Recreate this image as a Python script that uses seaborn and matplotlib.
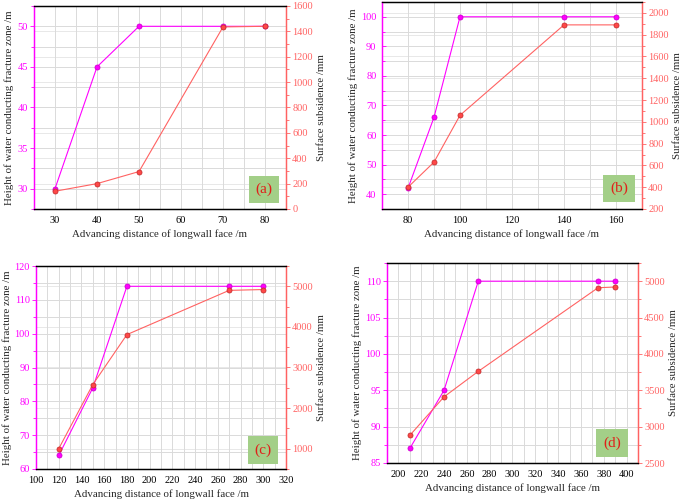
import numpy as np
import pandas as pd
import matplotlib
matplotlib.use("Agg")
import matplotlib.pyplot as plt
import matplotlib.transforms as mtransforms
from matplotlib.ticker import MultipleLocator
import seaborn as sns

# panel (a)
dist_a = [30, 40, 50, 70, 80]
height_a = [30, 45, 50, 50, 50]
subs_a = [140, 200, 295, 1435, 1440]

# panel (b)
dist_b = [80, 90, 100, 140, 160]
height_b = [42, 66, 100, 100, 100]
subs_b = [400, 630, 1060, 1890, 1890]

# panel (c)
dist_c = [120, 150, 180, 270, 300]
height_c = [64, 84, 114, 114, 114]
subs_c = [1000, 2580, 3810, 4900, 4920]

# panel (d)
dist_d = [210, 240, 270, 375, 390]
height_d = [87, 95, 110, 110, 110]
subs_d = [2880, 3410, 3760, 4910, 4920]

panel_labels = ["(a)", "(b)", "(c)", "(d)"]

MAGENTA = "#FF00FF"
RED = "#FF6262"
FS = 7.5

sns.set_style("white")
plt.rcParams["font.family"] = ["Liberation Serif", "DejaVu Serif"]

fig = plt.figure(figsize=(6.85, 5.0), dpi=100)

# axes box in pixels (left, right, top, bottom), label box centre in axes fraction
panels = [
    dict(box=(34, 286, 6, 209), x=dist_a, h=height_a, s=subs_a,
         xlim=(25, 85), xmaj=10, xmin=5, ylim=(27.5, 52.5), ymaj=5, ymin=2.5,
         rlim=(0, 1600), rmaj=200, lab_pos=(0.913, 0.095), ldir="out"),
    dict(box=(382, 642, 2, 209), x=dist_b, h=height_b, s=subs_b,
         xlim=(70, 170), xmaj=20, xmin=10, ylim=(35, 105), ymaj=10, ymin=5,
         rlim=(200, 2100), rmaj=200, lab_pos=(0.912, 0.10), ldir="in"),
    dict(box=(36, 286, 266, 469), x=dist_c, h=height_c, s=subs_c,
         xlim=(100, 320), xmaj=20, xmin=10, ylim=(60, 120), ymaj=10, ymin=5,
         rlim=(500, 5500), rmaj=1000, lab_pos=(0.908, 0.094), ldir="out"),
    dict(box=(387, 638, 263, 463), x=dist_d, h=height_d, s=subs_d,
         xlim=(190, 410), xmaj=20, xmin=10, ylim=(85, 112.5), ymaj=5, ymin=2.5,
         rlim=(2500, 5250), rmaj=500, lab_pos=(0.896, 0.10), ldir="out"),
]

W, H = 685, 500
for p, lab in zip(panels, panel_labels):
    l, r, t, b = p["box"]
    ax = fig.add_axes([l / W, 1 - b / H, (r - l) / W, (b - t) / H])
    ax2 = ax.twinx()

    df = pd.DataFrame({"dist": p["x"], "height": p["h"], "subs": p["s"]})
    sns.lineplot(data=df, x="dist", y="height", ax=ax, color=MAGENTA, lw=0.8,
                 marker="o", markersize=3.6, markeredgecolor="#D000D0",
                 markeredgewidth=0.6, zorder=3)
    sns.lineplot(data=df, x="dist", y="subs", ax=ax2, color=RED, lw=0.8,
                 marker="o", markersize=3.6, markerfacecolor="#FF4848",
                 markeredgecolor="#C83030", markeredgewidth=0.6, zorder=3)

    ax.set_xlim(*p["xlim"])
    ax.set_ylim(*p["ylim"])
    ax2.set_ylim(*p["rlim"])
    ax.xaxis.set_major_locator(MultipleLocator(p["xmaj"]))
    ax.xaxis.set_minor_locator(MultipleLocator(p["xmin"]))
    ax.yaxis.set_major_locator(MultipleLocator(p["ymaj"]))
    ax.yaxis.set_minor_locator(MultipleLocator(p["ymin"]))
    ax2.yaxis.set_major_locator(MultipleLocator(p["rmaj"]))
    ax2.yaxis.set_minor_locator(MultipleLocator(p["rmaj"] / 2))

    ax.grid(True, which="both", color="#DADADA", lw=0.7)
    ax.set_axisbelow(True)
    # right-axis gridlines, drawn in the lower axes so they stay under the curves
    trans = mtransforms.blended_transform_factory(ax.transAxes, ax2.transData)
    for v in ax2.get_yticks():
        if p["rlim"][0] < v < p["rlim"][1]:
            ax.plot([0, 1], [v, v], transform=trans, color="#E4E4E4", lw=0.6,
                    zorder=0.5)

    ax.set_xlabel("Advancing distance of longwall face /m", fontsize=FS + 0.3,
                  labelpad=3)
    ax.set_ylabel("Height of water conducting fracture zone /m", fontsize=FS + 0.3,
                  labelpad=2)
    ax2.set_ylabel("Surface subsidence /mm", fontsize=FS + 0.3, labelpad=3)

    ax.tick_params(axis="x", which="both", direction="out", labelsize=FS,
                   length=3, width=0.6, colors="black", pad=2)
    ax.tick_params(axis="x", which="minor", length=2)
    ax.tick_params(axis="y", which="both", direction=p["ldir"], labelsize=FS,
                   length=3, width=0.6, color=MAGENTA, labelcolor=MAGENTA,
                   pad=1.5 if p["ldir"] == "out" else 4)
    ax.tick_params(axis="y", which="minor", length=2)
    ax2.tick_params(axis="y", which="both", direction="out", labelsize=FS,
                    length=3, width=0.6, color=RED, labelcolor=RED, pad=1.5)
    ax2.tick_params(axis="y", which="minor", length=2)

    for a in (ax, ax2):
        a.spines["left"].set_color(MAGENTA)
        a.spines["right"].set_color(RED)
        a.spines["top"].set_color("black")
        a.spines["bottom"].set_color("black")
        for sp in a.spines.values():
            sp.set_linewidth(0.9)

    ax2.text(p["lab_pos"][0], p["lab_pos"][1], lab, transform=ax.transAxes,
             ha="center", va="center", fontsize=11, color="#E0201A", zorder=5,
             bbox=dict(boxstyle="square,pad=0.45", fc="#A3CF88", ec="none"))

fig.savefig("out.png", dpi=100)
